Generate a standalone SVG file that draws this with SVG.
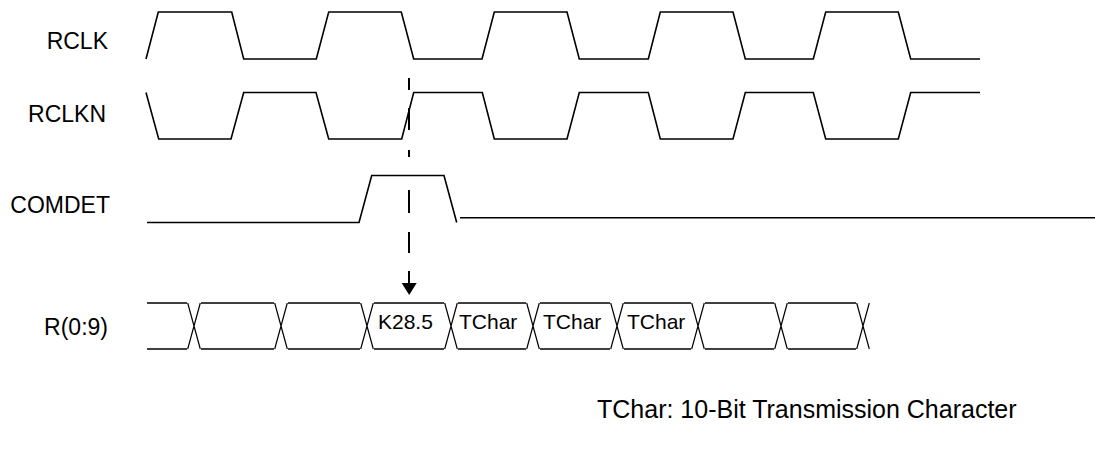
<svg xmlns="http://www.w3.org/2000/svg" width="1095" height="454" viewBox="0 0 1095 454">
<style>
.w{fill:none;stroke:#000;stroke-width:1.6;stroke-linejoin:miter}
.x{fill:none;stroke:#000;stroke-width:1.2}
.t{font-family:"Liberation Sans",Arial,sans-serif;font-size:23px;fill:#000}
.b{font-family:"Liberation Sans",Arial,sans-serif;font-size:21px;fill:#000}
.n{font-family:"Liberation Sans",Arial,sans-serif;font-size:25px;fill:#000}
.d{stroke:#000;stroke-width:2}
</style>
<rect width="1095" height="454" fill="#fff"/>
<g id="labels">
<text class="t" x="108" y="48.5" text-anchor="end">RCLK</text>
<text class="t" x="106" y="121.5" text-anchor="end">RCLKN</text>
<text class="t" x="110" y="212.5" text-anchor="end">COMDET</text>
<text class="t" x="108" y="335" text-anchor="end">R(0:9)</text>
</g>
<g id="rclk">
<polyline class="w" points="146,59 158.3,12 231.7,12 243.7,59 316.3,59 328.7,12 401.3,12 413.7,59 482,59 494.3,12 567,12 579.3,59 648.3,59 660.3,12 733,12 745.3,59 813.3,59 825.7,12 898.3,12 910.7,59 980,59"/>
</g>
<g id="rclkn">
<polyline class="w" points="146,92.5 158.7,139 231,139 243.7,92.5 316,92.5 328.7,139 401.7,139 413.7,92.5 482.3,92.5 494.3,139 567,139 579.3,92.5 648.3,92.5 660.3,139 733,139 745.3,92.5 813.3,92.5 825.7,139 898.3,139 910.7,92.5 980,92.5"/>
</g>
<g id="comdet">
<polyline class="w" points="147,222.5 359,222.5 371.7,175.5 444,175.5 456.7,222.5"/>
<line class="w" x1="460" y1="217.7" x2="1095" y2="217.7"/>
</g>
<g id="bus">
<g class="w">
<line x1="147" y1="303" x2="187" y2="303"/><line x1="147" y1="349" x2="187" y2="349"/>
<line x1="201" y1="303" x2="274" y2="303"/><line x1="201" y1="349" x2="274" y2="349"/>
<line x1="288" y1="303" x2="360" y2="303"/><line x1="288" y1="349" x2="360" y2="349"/>
<line x1="374" y1="303" x2="444" y2="303"/><line x1="374" y1="349" x2="444" y2="349"/>
<line x1="458" y1="303" x2="526" y2="303"/><line x1="458" y1="349" x2="526" y2="349"/>
<line x1="540" y1="303" x2="610" y2="303"/><line x1="540" y1="349" x2="610" y2="349"/>
<line x1="624" y1="303" x2="691" y2="303"/><line x1="624" y1="349" x2="691" y2="349"/>
<line x1="705" y1="303" x2="774" y2="303"/><line x1="705" y1="349" x2="774" y2="349"/>
<line x1="788" y1="303" x2="856" y2="303"/><line x1="788" y1="349" x2="856" y2="349"/>
</g>
<path class="x" d="M187.7,303 L200.3,349 M187.7,349 L200.3,303 M274.7,303 L287.3,349 M274.7,349 L287.3,303 M360.7,303 L373.3,349 M360.7,349 L373.3,303 M444.7,303 L457.3,349 M444.7,349 L457.3,303 M526.7,303 L539.3,349 M526.7,349 L539.3,303 M610.7,303 L623.3,349 M610.7,349 L623.3,303 M691.7,303 L704.3,349 M691.7,349 L704.3,303 M774.7,303 L787.3,349 M774.7,349 L787.3,303 M856.7,303 L869.3,349 M856.7,349 L869.3,303"/>
<text class="b" x="378" y="329">K28.5</text>
<text class="b" x="459" y="329">TChar</text>
<text class="b" x="543" y="329">TChar</text>
<text class="b" x="627" y="329">TChar</text>
</g>
<g id="connectors">
<g class="d">
<line x1="409" y1="78" x2="409" y2="90"/>
<line x1="409" y1="108" x2="409" y2="130"/>
<line x1="409" y1="150" x2="409" y2="157"/>
<line x1="409" y1="190" x2="409" y2="213"/>
<line x1="409" y1="232" x2="409" y2="253"/>
<line x1="409" y1="271" x2="409" y2="284"/>
</g>
<polygon points="401.7,283 416.7,283 409.2,295" fill="#000"/>
</g>
<g id="note">
<text class="n" x="597" y="418">TChar: 10-Bit Transmission Character</text>
</g>
</svg>
